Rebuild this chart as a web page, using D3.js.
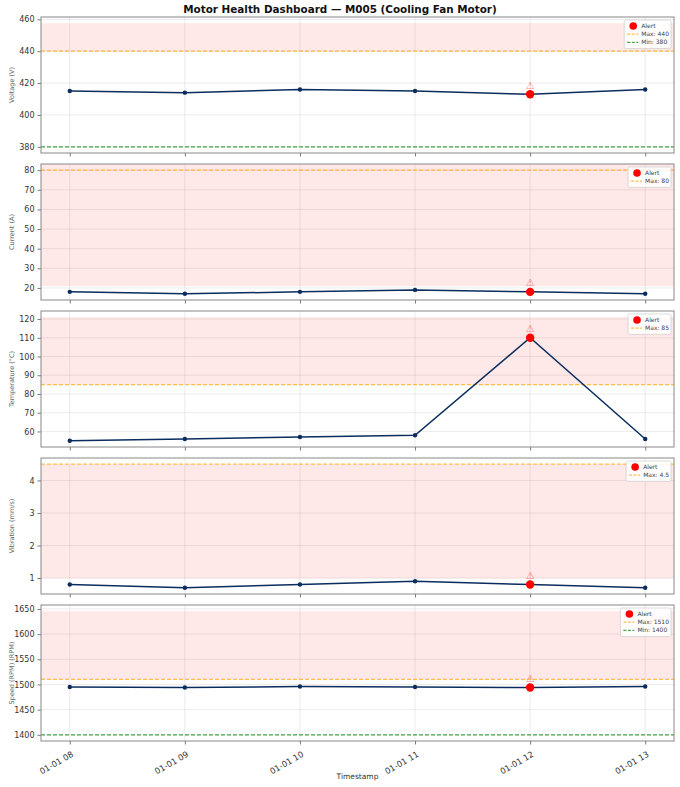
<!DOCTYPE html>
<html>
<head>
<meta charset="utf-8">
<script src="https://cdn.jsdelivr.net/npm/d3@7"></script>
<style>
  body { margin: 0; background: #fff; }
  svg { font-family: "DejaVu Sans", sans-serif; }
</style>
</head>
<body>
<div id="chart"></div>
<script>
const W = 680, H = 787;
const margin = {left: 41, right: 6, top: 17};
const panelH = 136, panelGap = 11;

const title = 'Motor Health Dashboard \u2014 M005 (Cooling Fan Motor)';
const timestamps = ['2024-01-01T08:00', '2024-01-01T09:00', '2024-01-01T10:00',
                    '2024-01-01T11:00', '2024-01-01T12:00', '2024-01-01T13:00'];
const alertTime = '2024-01-01T12:00';

const labels = ['Voltage (V)', 'Current (A)', 'Temperature (\u00b0C)', 'Vibration (mm/s)', 'Speed (RPM) (RPM)'];
const voltage = [415, 414, 416, 415, 413, 416];
const current = [18, 17, 18, 19, 18, 17];
const temperature = [55, 56, 57, 58, 110, 56];
const vibration = [0.8, 0.7, 0.8, 0.9, 0.8, 0.7];
const speed = [1495, 1494, 1496, 1495, 1494, 1496];
const series = [voltage, current, temperature, vibration, speed];

// thresholds (null = none)
const maxLimits = [440, 80, 85, 4.5, 1510];
const minLimits = [380, null, null, null, 1400];
// pink alert band per panel, null top = to axis top
const bandLow = [440, 20.9, 85, 0.99, 1510];
const bandHigh = [457.6, null, 121, 4.5, 1645.6];
const yTicks = [
  [380, 400, 420, 440, 460],
  [20, 30, 40, 50, 60, 70, 80],
  [60, 70, 80, 90, 100, 110, 120],
  [1, 2, 3, 4],
  [1400, 1450, 1500, 1550, 1600, 1650]
];

const parse = d3.timeParse('%Y-%m-%dT%H:%M');
const times = timestamps.map(parse);

const svg = d3.select('#chart').append('svg').attr('width', W).attr('height', H);

svg.append('text').attr('x', 340).attr('y', 13).attr('text-anchor', 'middle')
  .attr('font-weight', 'bold').attr('font-size', 10.4).attr('fill', '#111').text(title);

const innerW = W - margin.left - margin.right;
const tExt = d3.extent(times);
const pad = (tExt[1] - tExt[0]) * 0.05;
const x = d3.scaleTime().domain([new Date(+tExt[0] - pad), new Date(+tExt[1] + pad)]).range([0, innerW]);

series.forEach((vals, i) => {
  const top = margin.top + i * (panelH + panelGap);
  const g = svg.append('g').attr('transform', `translate(${margin.left},${top})`);

  // y domain like matplotlib autoscale: data + lines + band, 5% pad
  const pts = vals.concat([maxLimits[i], minLimits[i], bandLow[i], bandHigh[i]].filter(v => v != null));
  const [lo, hi] = d3.extent(pts);
  const yp = (hi - lo) * 0.05;
  const y = d3.scaleLinear().domain([lo - yp, hi + yp]).range([panelH, 0]);

  // grid
  g.append('g').selectAll('line').data(yTicks[i]).join('line')
    .attr('x1', 0).attr('x2', innerW).attr('y1', d => y(d)).attr('y2', d => y(d))
    .attr('stroke', '#b0b0b0').attr('stroke-opacity', 0.3).attr('stroke-width', 0.8);
  g.append('g').selectAll('line').data(times).join('line')
    .attr('y1', 0).attr('y2', panelH).attr('x1', d => x(d)).attr('x2', d => x(d))
    .attr('stroke', '#b0b0b0').attr('stroke-opacity', 0.3).attr('stroke-width', 0.8);

  // band
  const bTop = bandHigh[i] == null ? 0 : y(bandHigh[i]);
  g.append('rect').attr('x', 0).attr('width', innerW)
    .attr('y', bTop).attr('height', y(bandLow[i]) - bTop)
    .attr('fill', 'red').attr('fill-opacity', 0.09);

  // threshold lines
  if (maxLimits[i] != null) {
    g.append('line').attr('x1', 0).attr('x2', innerW)
      .attr('y1', y(maxLimits[i])).attr('y2', y(maxLimits[i]))
      .attr('stroke', 'orange').attr('stroke-opacity', 0.7).attr('stroke-width', 1.2)
      .attr('stroke-dasharray', '4,2');
  }
  if (minLimits[i] != null) {
    g.append('line').attr('x1', 0).attr('x2', innerW)
      .attr('y1', y(minLimits[i])).attr('y2', y(minLimits[i]))
      .attr('stroke', 'green').attr('stroke-opacity', 0.7).attr('stroke-width', 1.2)
      .attr('stroke-dasharray', '4,2');
  }

  // series
  const data = times.map((t, k) => ({t, v: vals[k]}));
  g.append('path').datum(data)
    .attr('fill', 'none').attr('stroke', '#0a2d5e').attr('stroke-width', 1.5)
    .attr('d', d3.line().x(d => x(d.t)).y(d => y(d.v)));
  g.append('g').selectAll('circle').data(data).join('circle')
    .attr('cx', d => x(d.t)).attr('cy', d => y(d.v)).attr('r', 2.2).attr('fill', '#0a2d5e');

  // alert point
  const a = data.find(d => +d.t === +parse(alertTime));
  g.append('circle').attr('cx', x(a.t)).attr('cy', y(a.v)).attr('r', 4.2).attr('fill', 'red');
  g.append('text').attr('x', x(a.t)).attr('y', y(a.v) - 5.5).attr('text-anchor', 'middle')
    .attr('font-size', 10).attr('fill', 'red').attr('fill-opacity', 0.5).text('\u26a0');

  // axes
  const yAxis = g.append('g').call(d3.axisLeft(y).tickValues(yTicks[i]).tickSize(3.5).tickPadding(3)
    .tickFormat(d => String(d)));
  const xAxis = g.append('g').attr('transform', `translate(0,${panelH})`)
    .call(d3.axisBottom(x).tickValues(times).tickSize(3.5).tickPadding(3)
      .tickFormat(i === series.length - 1 ? d3.timeFormat('%m-%d %H') : ''));
  [yAxis, xAxis].forEach(ax => {
    ax.select('.domain').remove();
    ax.selectAll('line').attr('stroke', '#555').attr('stroke-width', 0.8);
    ax.selectAll('text').attr('font-size', 8).attr('fill', '#333').attr('font-family', 'DejaVu Sans');
  });
  if (i === series.length - 1) {
    xAxis.selectAll('text').attr('text-anchor', 'end').attr('font-size', 8.3)
      .attr('transform', 'rotate(-30)').attr('dx', '-0.5em').attr('dy', '1em');
    svg.append('text').attr('x', margin.left + innerW / 2).attr('y', H - 8)
      .attr('text-anchor', 'middle').attr('font-size', 7.5).attr('fill', '#333').text('Timestamp');
  }

  // frame
  g.append('rect').attr('width', innerW).attr('height', panelH)
    .attr('fill', 'none').attr('stroke', '#888').attr('stroke-width', 1);

  // y label
  svg.append('text').attr('transform', `translate(14,${top + panelH / 2}) rotate(-90)`)
    .attr('text-anchor', 'middle').attr('font-size', 6.5).attr('fill', '#666').text(labels[i]);

  // legend
  const entries = [{type: 'dot', label: 'Alert'}];
  if (maxLimits[i] != null) entries.push({type: 'line', color: 'orange', label: 'Max: ' + maxLimits[i]});
  if (minLimits[i] != null) entries.push({type: 'line', color: 'green', label: 'Min: ' + minLimits[i]});
  const lg = g.append('g');
  const rowH = 8.2;
  const items = lg.selectAll('g').data(entries).join('g');
  items.append('text').attr('x', 14).attr('y', 2).attr('font-size', 6).attr('fill', '#444').text(d => d.label);
  const tw = d3.max(items.nodes(), n => n.querySelector('text').getComputedTextLength());
  const bw = tw + 19, bh = entries.length * rowH + 4;
  const bx = innerW - bw - 3, by = 3;
  lg.attr('transform', `translate(${bx},${by})`);
  lg.insert('rect', ':first-child').attr('x', 0).attr('y', 0).attr('width', bw).attr('height', bh)
    .attr('rx', 1.5).attr('fill', 'white').attr('fill-opacity', 0.85)
    .attr('stroke', '#ccc').attr('stroke-width', 0.7);
  items.attr('transform', (d, k) => `translate(3,${6 + k * rowH})`);
  items.filter(d => d.type === 'dot').append('circle').attr('cx', 6).attr('cy', 0).attr('r', 3.8).attr('fill', 'red');
  items.filter(d => d.type === 'line').append('line').attr('x1', 0).attr('x2', 11).attr('y1', 0).attr('y2', 0)
    .attr('stroke', d => d.color).attr('stroke-opacity', 0.7).attr('stroke-width', 1.2).attr('stroke-dasharray', '3,1.5');
});
</script>
</body>
</html>
